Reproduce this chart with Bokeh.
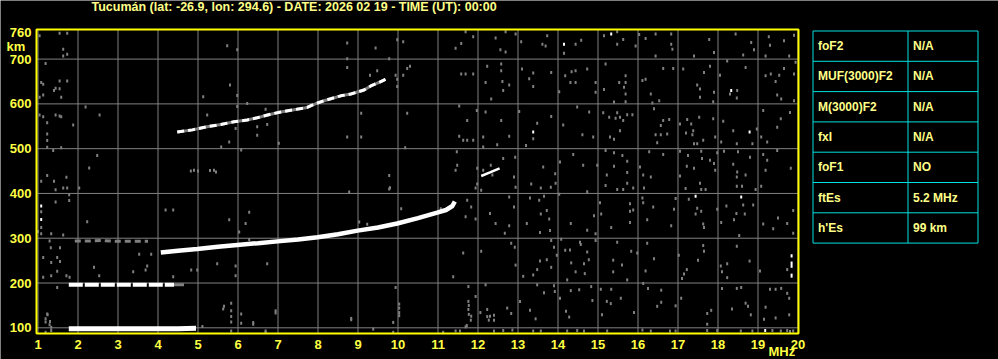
from bokeh.plotting import figure
from bokeh.models import Range1d
from bokeh.embed import file_html
from bokeh.resources import INLINE
from bokeh.core.properties import value

# ---------------- data ----------------
TITLE = "Tucumán (lat: -26.9, lon: 294.6) - DATE: 2026 02 19 - TIME (UT): 00:00"
X_TICKS = list(range(1, 21))
Y_TICKS = [100, 200, 300, 400, 500, 600, 700, 760]
Y_GRID = [100, 200, 300, 400, 500, 600, 700]
X_UNIT = "MHz"
Y_UNIT = "km"

# Sporadic E, first hop (MHz, km)
es1_freq = [1.77, 2.5, 3.0, 3.5, 4.0, 4.5, 4.95]
es1_height = [98, 98, 98, 98, 98, 98, 99]
# Sporadic E, second hop
es2_freq = [1.77, 2.5, 3.0, 3.5, 4.0, 4.4]
es2_height = [196, 196, 196, 196, 196, 196]
es2_tail_freq = [4.4, 4.65]
es2_tail_height = [196, 196]
# Sporadic E, third hop (weak)
es3_freq = [1.92, 2.3, 2.6, 3.0, 3.4, 3.75]
es3_height = [294, 294, 295, 293, 293, 293]
# F trace, first hop
f1_freq = [4.07, 4.5, 4.98, 5.5, 5.98, 6.5, 6.99, 7.5, 7.99, 8.5, 8.99, 9.5, 9.98, 10.5, 10.98, 11.2, 11.36, 11.42]
f1_height = [268, 272, 276, 281, 285, 289, 293, 297, 302, 309, 317, 324, 333, 345, 357, 363, 372, 382]
# F trace, second hop
f2_freq = [4.48, 4.86, 5.23, 5.57, 5.9, 6.23, 6.48, 6.82, 7.07, 7.4, 7.73, 7.9, 8.15, 8.57, 8.82, 9.15, 9.32, 9.53, 9.69]
f2_height = [537, 542, 549, 554, 560, 564, 569, 577, 582, 587, 592, 599, 607, 618, 622, 631, 640, 648, 655]
# short white echo near 12.3 MHz
slash_freq = [12.08, 12.3, 12.54]
slash_height = [439, 447, 456]
# vertical white echoes near 19.84 MHz (freq, km from, km to)
spike_freq = [19.84, 19.84, 19.84]
spike_lo = [257, 234, 212]
spike_hi = [264, 248, 221]
# isolated white dots
white_dots = [(15.33, 756), (14.15, 733), (18.33, 630), (13.38, 537), (18.79, 537),
              (17.44, 394), (18.58, 392), (1.08, 372), (1.08, 342), (19.18, 94)]

# scattered noise (freq MHz, virtual height km)
noise_top = [(11.69, 761), (11.88, 750), (11.44, 724), (11.58, 735), (12.44, 747), (12.69, 761), (12.56, 721),
             (12.69, 716), (12.94, 756), (13.08, 739), (13.61, 733), (13.73, 752), (13.69, 729), (14.15, 713),
             (14.44, 733), (14.58, 742), (15.15, 752), (15.48, 761), (15.63, 744), (15.48, 733), (15.94, 729),
             (16.03, 755), (16.19, 746), (16.44, 756), (16.83, 756), (16.83, 733), (16.86, 722), (16.44, 707),
             (17.4, 707), (17.78, 744), (17.9, 715), (18.44, 756), (18.83, 737), (18.9, 721), (18.63, 709),
             (19.19, 707), (19.27, 750), (19.3, 731), (19.65, 741), (19.9, 753), (19.78, 707),
             (1.04, 752), (1.54, 758), (1.73, 758), (1.63, 722), (1.63, 707), (1.73, 711), (5.73, 730),
             (5.98, 721), (8.73, 736), (8.73, 701), (9.44, 725), (9.98, 743), (10.13, 739), (9.78, 701)]
noise_600 = [(11.58, 667), (11.69, 667), (11.88, 667), (12.23, 684), (12.58, 689), (12.58, 674), (12.61, 650),
             (12.63, 630), (12.78, 642), (12.33, 611), (12.19, 648), (13.1, 678), (13.28, 656), (13.38, 669),
             (13.38, 639), (13.83, 670), (14.03, 627), (14.18, 663), (14.34, 672), (14.44, 674), (14.31, 648),
             (14.44, 648), (14.73, 678), (14.94, 648), (14.94, 626), (15.15, 632), (15.19, 689), (15.53, 648),
             (15.69, 663), (15.69, 648), (15.69, 622), (15.65, 637), (15.4, 604), (15.69, 605), (16.11, 652),
             (16.19, 655), (16.32, 622), (16.53, 607), (16.36, 602), (16.63, 679), (16.88, 679), (17.13, 678),
             (17.48, 642), (17.55, 633), (17.55, 615), (17.65, 670), (17.8, 684), (17.9, 626), (17.88, 605),
             (18.05, 664), (18.3, 622), (18.48, 630), (18.47, 613), (18.23, 696), (18.69, 681), (19.19, 663),
             (19.44, 650), (19.32, 667), (19.65, 679), (19.53, 664), (19.48, 620), (19.58, 611), (19.9, 667),
             (19.9, 607), (19.94, 693),
             (1.19, 690), (1.08, 648), (1.13, 644), (1.54, 651), (1.73, 651), (1.4, 630), (1.44, 635),
             (1.54, 634), (1.13, 620), (1.58, 615), (1.04, 615), (8.73, 681), (9.48, 674), (9.3, 664),
             (9.94, 664), (10.13, 664), (9.98, 655), (10.23, 679), (10.3, 684), (9.98, 639), (5.8, 642),
             (5.13, 616), (5.98, 619), (6.23, 601)]
noise_500 = [(11.53, 595), (11.73, 563), (11.53, 528), (11.73, 519), (11.63, 519), (11.88, 519), (11.97, 585),
             (12.13, 526), (12.13, 504), (12.19, 582), (12.58, 563), (12.48, 509), (12.78, 528), (13.03, 583),
             (13.2, 507), (13.38, 522), (13.48, 557), (13.83, 572), (14.13, 553), (14.48, 593), (14.61, 531),
             (14.78, 582), (14.88, 526), (15.13, 580), (15.28, 570), (15.44, 568), (15.48, 580), (15.55, 570),
             (15.63, 563), (15.73, 576), (15.86, 576), (15.4, 521), (15.3, 526), (15.55, 540), (16.4, 589),
             (16.57, 552), (16.63, 563), (16.78, 565), (16.44, 531), (16.57, 531), (16.73, 533), (16.48, 513),
             (17.05, 555), (17.23, 565), (17.33, 555), (17.38, 540), (17.36, 531), (17.2, 535), (17.53, 570),
             (17.4, 511), (17.48, 511), (17.63, 519), (17.88, 567), (17.93, 526), (18.13, 561), (18.08, 515),
             (18.38, 540), (18.47, 511), (18.86, 511), (18.97, 544), (19.13, 585), (19.23, 515), (19.08, 526),
             (19.48, 548), (19.57, 567), (19.8, 581),
             (1.04, 575), (1.13, 571), (1.44, 575), (1.54, 573), (1.58, 571), (1.23, 558), (1.23, 533),
             (1.23, 518), (1.23, 503), (1.58, 502), (1.88, 553), (2.19, 593), (2.54, 575), (5.98, 594),
             (5.23, 575), (5.94, 545), (6.48, 549), (6.48, 530), (6.73, 554), (6.69, 588), (5.78, 515),
             (5.58, 504), (7.02, 512), (8.73, 526), (9.08, 526), (9.08, 579), (10.23, 579), (10.18, 502)]
noise_400 = [(11.47, 493), (11.48, 463), (11.44, 452), (11.98, 456), (12.13, 452), (12.32, 463), (12.36, 441),
             (12.63, 478), (12.93, 481), (12.9, 437), (13.63, 459), (13.93, 444), (14.05, 470), (14.38, 487),
             (14.63, 463), (14.98, 463), (15.19, 496), (15.4, 491), (15.61, 485), (15.73, 472), (15.4, 461),
             (15.22, 441), (15.73, 447), (16.05, 459), (16.13, 441), (16.32, 437), (16.28, 493), (16.63, 487),
             (17.05, 494), (17.25, 485), (17.22, 461), (17.05, 439), (17.4, 456), (17.58, 494), (17.6, 478),
             (17.8, 474), (17.9, 467), (17.93, 452), (17.98, 491), (18.15, 494), (18.38, 465), (18.5, 493),
             (18.48, 448), (18.47, 437), (18.69, 441), (18.8, 481), (19.13, 487), (19.23, 474), (19.19, 452),
             (19.48, 496), (19.82, 456),
             (11.98, 421), (12.08, 407), (11.94, 412), (12.94, 414), (13.33, 421), (13.57, 412), (13.82, 414),
             (13.94, 423), (14.73, 404), (15.19, 418), (15.48, 409), (15.63, 409), (15.73, 423), (15.88, 412),
             (16.15, 412), (17.19, 411), (17.58, 409), (17.69, 409), (17.55, 423), (18.47, 416), (18.6, 416),
             (18.94, 409), (19.08, 416),
             (1.38, 496), (2.48, 485), (2.28, 457), (1.23, 440), (1.71, 436), (1.08, 427), (1.4, 427),
             (1.44, 408), (1.63, 412), (1.73, 412), (2.03, 412), (6.08, 497), (9.78, 440), (9.78, 410),
             (8.78, 403), (9.8, 413), (4.82, 450), (4.9, 452), (5.0, 450), (5.3, 451), (5.4, 452), (5.45, 448)]
noise_300 = [(11.73, 385), (11.83, 370), (11.69, 348), (11.94, 343), (12.3, 355), (12.44, 333), (12.78, 392),
             (12.9, 370), (12.78, 328), (12.67, 311), (13.22, 333), (13.3, 390), (13.53, 385), (13.57, 354),
             (13.65, 394), (13.72, 362), (13.78, 343), (13.55, 313), (13.8, 317), (14.03, 398), (14.32, 333),
             (14.73, 318), (14.9, 350), (14.94, 310), (15.05, 379), (15.08, 354), (15.33, 324), (15.8, 377),
             (15.8, 360), (15.88, 363), (15.8, 335), (16.11, 390), (16.13, 379), (16.38, 370), (16.23, 341),
             (16.9, 365), (16.94, 389), (16.83, 328), (17.27, 387), (17.48, 367), (17.58, 360), (17.63, 332),
             (17.65, 324), (17.44, 354), (17.98, 365), (18.08, 335), (18.21, 372), (18.4, 341), (18.46, 355),
             (18.53, 306), (18.63, 374), (18.88, 374), (18.67, 354), (19.13, 332), (19.38, 321), (19.5, 345),
             (19.73, 333), (19.88, 362), (19.88, 311),
             (1.78, 397), (1.78, 384), (1.44, 381), (1.08, 359), (1.08, 324), (1.08, 310), (1.33, 310),
             (1.63, 307), (2.23, 337), (1.0, 315), (4.19, 363), (4.38, 363), (5.78, 341), (6.28, 358),
             (6.19, 333), (6.03, 314), (10.08, 366), (9.03, 336), (9.23, 331), (11.07, 366)]
noise_200 = [(11.63, 267), (11.38, 214), (12.08, 271), (12.83, 289), (12.92, 280), (12.94, 240), (13.13, 215),
             (13.38, 218), (13.48, 230), (13.55, 249), (13.72, 252), (13.83, 235), (13.83, 295), (13.9, 280),
             (13.97, 262), (14.08, 298), (14.18, 273), (14.3, 274), (14.23, 207), (14.33, 245), (14.44, 225),
             (14.55, 291), (14.57, 286), (14.73, 269), (14.65, 243), (14.67, 221), (14.77, 252), (14.94, 295),
             (15.48, 291), (15.38, 251), (15.38, 225), (15.6, 240), (15.83, 271), (15.98, 267), (15.73, 207),
             (16.19, 227), (16.23, 289), (16.4, 254), (17.02, 262), (17.22, 230), (17.15, 220), (17.1, 210),
             (17.5, 251), (17.65, 271), (17.63, 284), (18.07, 238), (18.1, 225), (18.23, 243), (18.23, 212),
             (18.47, 282), (18.79, 249), (19.05, 227), (19.73, 230),
             (1.29, 294), (1.32, 279), (1.55, 279), (1.13, 257), (1.48, 257), (1.33, 246), (1.55, 248),
             (1.13, 213), (1.33, 216), (1.48, 226), (1.71, 216), (1.79, 213), (2.4, 235), (2.53, 216),
             (6.28, 297), (3.53, 264), (3.83, 264), (3.73, 238), (3.38, 225), (3.69, 229), (4.38, 214),
             (4.83, 229), (4.98, 229), (5.48, 243), (5.94, 238), (5.94, 216), (6.73, 243)]
noise_100 = [(11.76, 192), (11.94, 170), (11.76, 159), (11.76, 141), (11.83, 126), (11.72, 105), (12.19, 196),
             (12.23, 141), (12.3, 126), (12.4, 128), (12.73, 144), (12.83, 132), (13.05, 159), (13.3, 139),
             (13.48, 196), (13.44, 120), (13.65, 178), (13.9, 194), (13.92, 181), (14.05, 166), (14.32, 183),
             (14.2, 137), (14.28, 124), (14.53, 185), (14.83, 192), (14.86, 161), (15.07, 186), (15.1, 129),
             (15.22, 159), (15.33, 186), (15.32, 154), (15.57, 166), (15.9, 134), (16.13, 199), (16.25, 188),
             (16.58, 184), (16.58, 157), (16.48, 148), (16.94, 149), (17.08, 166), (17.73, 132), (17.73, 108),
             (17.83, 139), (18.1, 188), (18.35, 142), (18.47, 188), (18.58, 190), (18.69, 155), (18.75, 148),
             (18.82, 129), (19.19, 146), (19.3, 186), (19.44, 186), (19.44, 122), (19.58, 188), (19.73, 177),
             (19.78, 129), (19.78, 166), (19.15, 119),
             (1.48, 190), (1.23, 131), (1.19, 113), (1.29, 107), (1.24, 129), (1.19, 120), (1.3, 114),
             (1.33, 101), (5.63, 142), (5.83, 155), (5.65, 148), (5.83, 138), (5.83, 125), (5.83, 113),
             (6.08, 131), (6.08, 110), (6.38, 108), (6.38, 112), (6.94, 133), (6.94, 138), (8.83, 118),
             (8.83, 121), (9.88, 112), (10.03, 144), (10.03, 127), (10.03, 153), (10.03, 134), (9.94, 190),
             (11.69, 102), (11.77, 150), (11.77, 130), (11.82, 117), (12.06, 134), (12.23, 125), (12.27, 117),
             (12.4, 117), (5.11, 103)]
noise_floor = [(1.33, 94), (1.19, 90), (5.83, 93), (6.69, 93), (6.69, 90), (9.38, 97), (9.88, 90),
               (11.13, 90), (11.44, 93), (11.55, 93), (12.4, 93), (12.63, 94), (12.86, 95), (13.38, 93),
               (13.57, 93), (14.23, 93), (14.48, 94), (14.65, 93), (15.23, 93), (16.11, 95), (16.32, 93),
               (16.8, 93), (16.94, 93), (17.73, 94), (17.98, 94), (18.57, 93), (18.86, 93), (19.36, 94),
               (19.57, 93), (19.73, 94), (19.8, 92), (19.88, 93)]

# parameter table
table_params = ["foF2", "MUF(3000)F2", "M(3000)F2", "fxI", "foF1", "ftEs", "h'Es"]
table_values = ["N/A", "N/A", "N/A", "N/A", "NO", "5.2 MHz", "99 km"]

# ---------------- layout / styling ----------------
W, H = 998, 359
FRAME_L, FRAME_R, FRAME_T, FRAME_B = 36, 798, 29, 333     # ionogram frame, pixels
PX_PER_MHZ = 40.0
PX_PER_KM = 0.44783
F_MIN = X_TICKS[0] - 1.5 / PX_PER_MHZ
F_MAX = F_MIN + (FRAME_R - FRAME_L) / PX_PER_MHZ
H_MIN = Y_GRID[0] - (FRAME_B - 327.3) / PX_PER_KM
H_MAX = H_MIN + (FRAME_B - FRAME_T) / PX_PER_KM

YELLOW = "#ffff00"
LABEL_YELLOW = "#ffff44"
PALE_YELLOW = "#ffff88"
GRAY = "#808080"
CYAN = "#00e0e0"
FONT = "Liberation Sans"

p = figure(width=W, height=H,
           x_range=Range1d(F_MIN - FRAME_L / PX_PER_MHZ, F_MIN + (W - FRAME_L) / PX_PER_MHZ),
           y_range=Range1d(H_MIN - (H - FRAME_B) / PX_PER_KM, H_MAX + FRAME_T / PX_PER_KM),
           x_axis_type=None, y_axis_type=None,
           output_backend="svg", toolbar_location=None, min_border=0,
           background_fill_color="black", border_fill_color="black", outline_line_color=None)
p.grid.visible = False
p.extra_x_ranges = {"px": Range1d(0, W)}
p.extra_y_ranges = {"px": Range1d(H, 0)}

# grid
p.segment(x0=X_TICKS, y0=[H_MIN] * len(X_TICKS), x1=X_TICKS, y1=[H_MAX] * len(X_TICKS),
          line_color=GRAY, line_width=1)
p.segment(x0=[F_MIN] * len(Y_GRID), y0=Y_GRID, x1=[F_MAX] * len(Y_GRID), y1=Y_GRID,
          line_color=GRAY, line_width=1)

# noise
all_noise = noise_top + noise_600 + noise_500 + noise_400 + noise_300 + noise_200 + noise_100 + noise_floor
p.rect(x=[f for f, h in all_noise], y=[h for f, h in all_noise], width=2, height=3,
       width_units="screen", height_units="screen", fill_color=GRAY, line_color=None)

# echo traces
p.line(es1_freq, es1_height, line_color="white", line_width=5)
p.line(es2_freq, es2_height, line_color="white", line_width=4, line_dash="14 2")
p.line(es2_tail_freq, es2_tail_height, line_color=GRAY, line_width=3)
p.line(es3_freq, es3_height, line_color=GRAY, line_width=3, line_dash="6 4")
p.line(f2_freq, f2_height, line_color=GRAY, line_width=3)
p.line(f2_freq, f2_height, line_color="white", line_width=3, line_dash="7 4")
p.line(f1_freq, f1_height, line_color="white", line_width=4.5)
p.line(slash_freq, slash_height, line_color="white", line_width=2.5)
p.segment(x0=spike_freq, y0=spike_lo, x1=spike_freq, y1=spike_hi, line_color="white", line_width=2)
p.rect(x=[f for f, h in white_dots], y=[h for f, h in white_dots], width=2, height=3,
       width_units="screen", height_units="screen", fill_color="white", line_color=None)

# frame
p.quad(left=[F_MIN], right=[F_MAX], bottom=[H_MIN], top=[H_MAX],
       fill_color=None, line_color=YELLOW, line_width=2)

# tick labels
tick_style = dict(text_color=LABEL_YELLOW, text_font=value(FONT), text_font_style="bold",
                  text_font_size="13px", text_baseline="middle")
p.text(x=X_TICKS, y=[H_MIN] * len(X_TICKS), text=[str(t) for t in X_TICKS],
       y_offset=11, text_align="center", **tick_style)
p.text(x=[F_MIN] * len(Y_TICKS), y=Y_TICKS, text=[str(t) for t in Y_TICKS],
       x_offset=-5, text_align="right", **tick_style)
p.text(x=[F_MIN], y=[Y_TICKS[-1]], text=[Y_UNIT], x_offset=-30, y_offset=14,
       text_align="left", **tick_style)
p.text(x=[F_MAX], y=[H_MIN], text=[X_UNIT], x_offset=-30, y_offset=18,
       text_align="left", **tick_style)

# title
p.text(x=[F_MIN], y=[H_MAX], text=[TITLE], x_offset=55, y_offset=-22.5,
       text_color=PALE_YELLOW, text_font=value(FONT), text_font_style="bold",
       text_font_size="12.5px", text_baseline="middle", text_align="left")

# parameter table (drawn in pixel space)
x_left, x_mid, x_right = 812.5, 907.5, 977.5
top, row_h = 30.5, 30.3
n = len(table_params)
ys = [top + i * row_h for i in range(n + 1)]
p.segment(x0=[x_left] * (n + 1), y0=ys, x1=[x_right] * (n + 1), y1=ys, line_color=CYAN, line_width=1,
          x_range_name="px", y_range_name="px")
p.segment(x0=[x_left, x_mid, x_right], y0=[ys[0]] * 3, x1=[x_left, x_mid, x_right], y1=[ys[-1]] * 3,
          line_color=CYAN, line_width=1, x_range_name="px", y_range_name="px")
centers = [top + (i + 0.5) * row_h for i in range(n)]
table_style = dict(text_color=PALE_YELLOW, text_font=value(FONT), text_font_style="bold",
                   text_font_size="12px", text_baseline="middle", x_range_name="px", y_range_name="px")
p.text(x=[x_left + 5] * n, y=centers, text=table_params, **table_style)
p.text(x=[x_mid + 5] * n, y=centers, text=table_values, **table_style)

open("out.html", "w").write(file_html(p, INLINE))
